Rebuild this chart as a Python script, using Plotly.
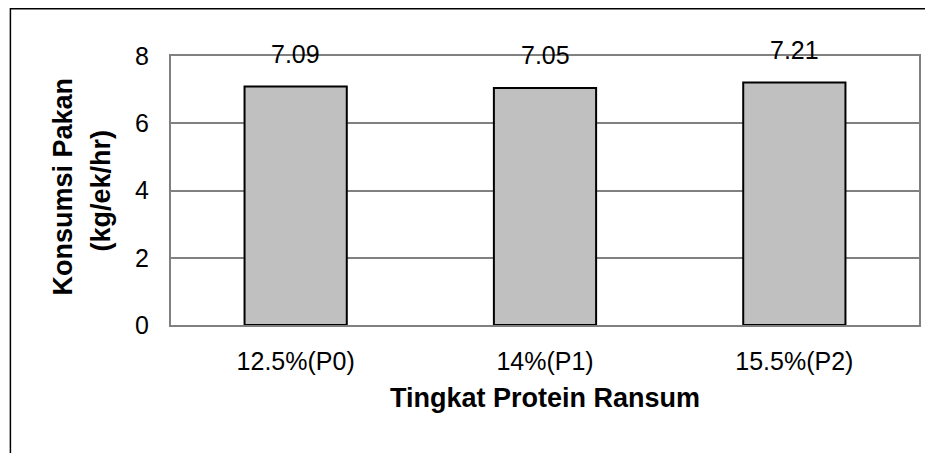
import plotly.graph_objects as go

categories = ["12.5%(P0)", "14%(P1)", "15.5%(P2)"]
values = [7.09, 7.05, 7.21]
value_labels = ["7.09", "7.05", "7.21"]
y_ticks = [0, 2, 4, 6, 8]
x_title = "Tingkat Protein Ransum"
y_title_lines = ["Konsumsi Pakan", "(kg/ek/hr)"]

FONT = "Liberation Sans, Arial, sans-serif"
FS = 25
FT = 27

fig = go.Figure()
fig.add_trace(go.Bar(
    x=categories, y=values,
    marker=dict(color="#C0C0C0", line=dict(color="black", width=2)),
    width=0.41,
    hoverinfo="skip",
))

for c, v, t in zip(categories, values, value_labels):
    fig.add_annotation(x=c, y=v, text=t, showarrow=False, yshift=33,
                       yanchor="middle", font=dict(family=FONT, size=FS, color="black"))

# axis titles as annotations (to control line spacing)
fig.add_annotation(xref="paper", yref="paper", x=0, y=0.5, xshift=-109, yshift=4,
                   text="<b>" + y_title_lines[0] + "</b>", textangle=-90, showarrow=False,
                   xanchor="center", yanchor="middle", font=dict(family=FONT, size=FT, color="black"))
fig.add_annotation(xref="paper", yref="paper", x=0, y=0.5, xshift=-71, yshift=0,
                   text="<b>" + y_title_lines[1] + "</b>", textangle=-90, showarrow=False,
                   xanchor="center", yanchor="middle", font=dict(family=FONT, size=FT, color="black"))
fig.add_annotation(xref="paper", yref="paper", x=0.5, y=0, yshift=-73,
                   text="<b>" + x_title + "</b>", showarrow=False,
                   xanchor="center", yanchor="middle", font=dict(family=FONT, size=FT, color="black"))

fig.add_shape(type="rect", xref="paper", yref="paper",
              x0=-0.2147, x1=1.1, y0=-0.7, y1=1.1757,
              line=dict(color="black", width=1.5), layer="below")

fig.update_layout(
    width=917, height=445,
    margin=dict(l=163, r=4, t=48, b=128),
    paper_bgcolor="white", plot_bgcolor="white",
    font=dict(family=FONT, size=FS, color="black"),
    showlegend=False,
    xaxis=dict(
        showline=True, linecolor="#808080", linewidth=2, mirror=True,
        ticks="", tickfont=dict(size=FS), ticklabelstandoff=13,
    ),
    yaxis=dict(
        range=[0, 8], tickvals=y_ticks, ticktext=[str(v) for v in y_ticks],
        showgrid=True, gridcolor="#808080", gridwidth=1.5,
        showline=True, linecolor="#808080", linewidth=2, mirror=True,
        zeroline=False, ticks="", tickfont=dict(size=FS), ticklabelstandoff=15,
    ),
)

fig.write_html("out.html")
